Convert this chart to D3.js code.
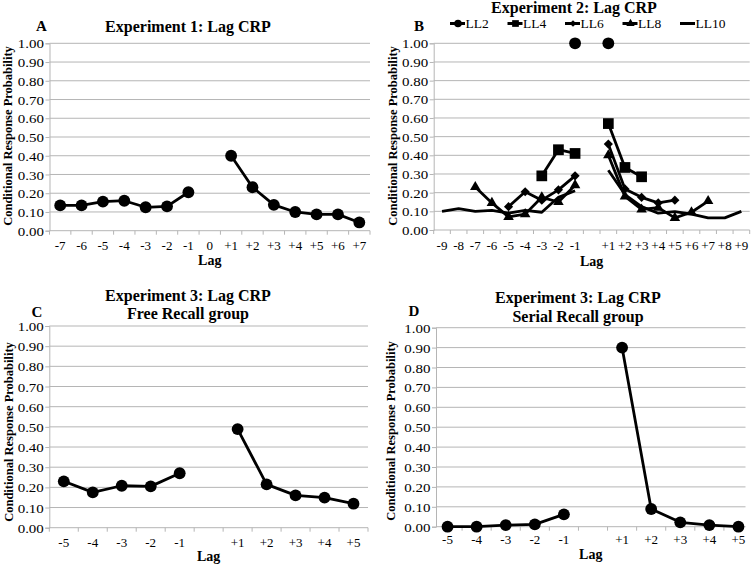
<!DOCTYPE html>
<html lang="en">
<meta charset="UTF-8">
<title>Lag CRP</title>
<script src="https://d3js.org/d3.v7.min.js"></script>
<style>
  body { margin: 0; background: #fff; }
  svg text { font-family: "Liberation Serif", "Times New Roman", Times, "DejaVu Serif", serif !important; fill: #000; }
</style>
<body>
<svg width="754" height="565"></svg>

<script>
// ---- data ----
var lagsA = ["-7","-6","-5","-4","-3","-2","-1","0","+1","+2","+3","+4","+5","+6","+7"];
var labelsA = lagsA;
var crpA = [0.135, 0.135, 0.155, 0.16, 0.125, 0.13, 0.205, null, 0.40, 0.232, 0.138, 0.10, 0.087, 0.087, 0.044];

var lagsB = ["-9","-8","-7","-6","-5","-4","-3","-2","-1","0","+1","+2","+3","+4","+5","+6","+7","+8","+9"];
var labelsB = ["-9","-8","-7","-6","-5","-4","-3","-2","-1","","+1","+2","+3","+4","+5","+6","+7","+8","+9"];
var ll2  = [null,null,null,null,null,null,null,null,1.00,null,1.00,null,null,null,null,null,null,null,null];
var ll4  = [null,null,null,null,null,null,0.29,0.43,0.41,null,0.57,0.335,0.285,null,null,null,null,null,null];
var ll6  = [null,null,null,null,0.125,0.205,0.16,0.215,0.29,null,0.46,0.22,0.175,0.145,0.16,null,null,null,null];
var ll8  = [null,null,0.23,0.145,0.07,0.085,0.175,0.15,0.24,null,0.40,0.18,0.11,0.12,0.065,0.095,0.155,null,null];
var ll10 = [0.10,0.115,0.10,0.105,0.09,0.105,0.095,0.175,0.21,null,0.32,0.19,0.125,0.09,0.098,0.085,0.065,0.065,0.10];
var seriesNames = ["LL2","LL4","LL6","LL8","LL10"];

var lagsCD = ["-5","-4","-3","-2","-1","0","+1","+2","+3","+4","+5"];
var labelsCD = ["-5","-4","-3","-2","-1","","+1","+2","+3","+4","+5"];
var crpC = [0.23, 0.175, 0.208, 0.205, 0.27, null, 0.489, 0.215, 0.16, 0.149, 0.119];
var crpD = [0.0, 0.0, 0.008, 0.012, 0.062, null, 0.90, 0.089, 0.022, 0.008, 0.0];

var yTicks = [0,0.1,0.2,0.3,0.4,0.5,0.6,0.7,0.8,0.9,1.0];

var svg = d3.select("svg");
var grey = "#b5b5b5";

// marker shapes
var shapes = {
  circle:   d3.symbol().type(d3.symbolCircle).size(110),
  square:   d3.symbol().type(d3.symbolSquare).size(115),
  diamond:  d3.symbol().type(d3.symbolSquare).size(42),
  triangle: d3.symbol().type(d3.symbolTriangle).size(48)
};

function drawPanel(p) {
  var g = svg.append("g");
  var x = d3.scaleBand().domain(p.cats).range([p.x0, p.x1]);
  var y = d3.scaleLinear().domain([0, 1]).range([p.yb, p.yt]);
  var cx = function(c) { return x(c) + x.bandwidth() / 2; };

  // gridlines
  g.selectAll(".grid").data(yTicks.slice(1)).enter().append("line")
    .attr("x1", p.gx0).attr("x2", p.gx1)
    .attr("y1", function(d) { return y(d); }).attr("y2", function(d) { return y(d); })
    .attr("stroke", grey).attr("stroke-width", 1);

  // y axis (labels a bit stretched sideways, like the original figure)
  var ya = g.append("g").attr("transform", "translate(" + p.gx0 + ",0)")
    .call(d3.axisLeft(y).tickValues(yTicks).tickFormat(d3.format(".2f")).tickSize(4).tickPadding(2));
  ya.attr("font-family", null);
  ya.select(".domain").attr("stroke", grey);
  ya.selectAll(".tick line").attr("stroke", grey);
  ya.selectAll("text").style("font-size", "13px").attr("dy", "0.35em")
    .attr("x", -5.5 / 1.15).attr("transform", "scale(1.15,1)");

  // x axis
  var xa = g.append("g").attr("transform", "translate(0," + p.yb + ")")
    .call(d3.axisBottom(x).tickSize(0).tickPadding(p.tickPad)
      .tickFormat(function(d, i) { return p.labels[i]; }));
  xa.attr("font-family", null);
  xa.select(".domain").remove();
  xa.selectAll("text").style("font-size", "13px");
  g.append("line").attr("x1", p.gx0).attr("x2", p.gx1).attr("y1", p.yb).attr("y2", p.yb)
    .attr("stroke", grey);
  var bounds = p.cats.map(function(c) { return x(c); }).concat([p.x1]);
  g.selectAll(".btick").data(bounds.filter(function(b) { return b >= p.gx0 - 1 && b <= p.gx1 + 1; }))
    .enter().append("line")
    .attr("x1", function(d) { return d; }).attr("x2", function(d) { return d; })
    .attr("y1", p.yb).attr("y2", p.yb + 4).attr("stroke", grey);

  // series
  p.series.forEach(function(s) {
    var pts = s.values.map(function(v, i) { return { c: p.cats[i], v: v }; });
    var line = d3.line().defined(function(d) { return d.v != null; })
      .x(function(d) { return cx(d.c); }).y(function(d) { return y(d.v); });
    g.append("path").datum(pts).attr("d", line)
      .attr("fill", "none").attr("stroke", "#000").attr("stroke-width", 2.8)
      .attr("stroke-linejoin", "round");
    if (s.marker) {
      g.selectAll(null).data(pts.filter(function(d) { return d.v != null; })).enter()
        .append("path")
        .attr("d", shapes[s.marker]())
        .attr("transform", function(d) {
          return "translate(" + cx(d.c) + "," + y(d.v) + ")" + (s.marker == "diamond" ? " rotate(45)" : "");
        })
        .attr("fill", "#000");
    }
  });

  // titles / labels
  p.title.forEach(function(t) {
    svg.append("text").attr("x", p.tx).attr("y", t[1]).attr("text-anchor", "middle")
      .style("font-size", "16px").style("font-weight", "bold").text(t[0]);
  });
  svg.append("text").attr("x", p.letter[0]).attr("y", p.letter[1])
    .style("font-size", "15px").style("font-weight", "bold").text(p.letter[2]);
  svg.append("text").attr("x", (p.gx0 + p.gx1) / 2).attr("y", p.lagY).attr("text-anchor", "middle")
    .style("font-size", "14px").style("font-weight", "bold").text("Lag");
  svg.append("text")
    .attr("transform", "translate(" + p.ylab[0] + "," + p.ylab[1] + ") rotate(-90)")
    .attr("text-anchor", "middle").attr("dominant-baseline", "central")
    .style("font-size", "12.5px").style("font-weight", "bold")
    .text("Conditional Response Probability");
}

drawPanel({
  cats: lagsA, labels: labelsA, x0: 49.5, x1: 370, gx0: 49.5, gx1: 370, yt: 43.3, yb: 230.7, tickPad: 10.5,
  series: [{ values: crpA, marker: "circle" }],
  title: [["Experiment 1: Lag CRP", 32]], tx: 188, letter: [36, 31, "A"], lagY: 265, ylab: [8, 136]
});

drawPanel({
  cats: lagsB, labels: labelsB, x0: 433.7, x1: 749.7, gx0: 433.7, gx1: 749.7, yt: 43.3, yb: 230, tickPad: 10.5,
  series: [
    { values: ll10, marker: null },
    { values: ll8, marker: "triangle" },
    { values: ll6, marker: "diamond" },
    { values: ll4, marker: "square" },
    { values: ll2, marker: "circle" }
  ],
  title: [["Experiment 2: Lag CRP", 13]], tx: 574, letter: [414, 31, "B"], lagY: 266, ylab: [393, 136]
});

drawPanel({
  cats: lagsCD, labels: labelsCD, x0: 49.3, x1: 368, gx0: 49.3, gx1: 368, yt: 326, yb: 527.7, tickPad: 10,
  series: [{ values: crpC, marker: "circle" }],
  title: [["Experiment 3: Lag CRP", 300.5], ["Free Recall group", 319]], tx: 188,
  letter: [31.5, 316.5, "C"], lagY: 560.5, ylab: [9, 432]
});

drawPanel({
  cats: lagsCD, labels: labelsCD, x0: 433, x1: 753, gx0: 436, gx1: 745.5, yt: 327.7, yb: 526.7, tickPad: 8.5,
  series: [{ values: crpD, marker: "circle" }],
  title: [["Experiment 3: Lag CRP", 303], ["Serial Recall group", 321.5]], tx: 578,
  letter: [408.5, 316, "D"], lagY: 558.5, ylab: [391, 431]
});

// legend for panel B
var legMarkers = ["circle", "square", "diamond", "triangle", null];
var legSize = { circle: 45, square: 45, diamond: 22, triangle: 30 };
var leg = svg.append("g").selectAll("g").data(seriesNames).enter().append("g")
  .attr("transform", function(d, i) { return "translate(" + (450 + i * 57.5) + ",23.5)"; });
leg.append("line").attr("x1", 0).attr("x2", 15).attr("stroke", "#000").attr("stroke-width", 3);
leg.filter(function(d, i) { return legMarkers[i]; }).append("path")
  .attr("d", function(d, i) {
    var m = legMarkers[i];
    var t = m == "circle" ? d3.symbolCircle : (m == "triangle" ? d3.symbolTriangle : d3.symbolSquare);
    return d3.symbol().type(t).size(legSize[m])();
  })
  .attr("transform", function(d, i) { return "translate(8,0)" + (legMarkers[i] == "diamond" ? " rotate(45)" : ""); })
  .attr("fill", "#000");
leg.append("text").attr("x", 15.5).attr("y", 4.5).style("font-size", "13.5px").text(function(d) { return d; });
</script>
</body>
</html>
